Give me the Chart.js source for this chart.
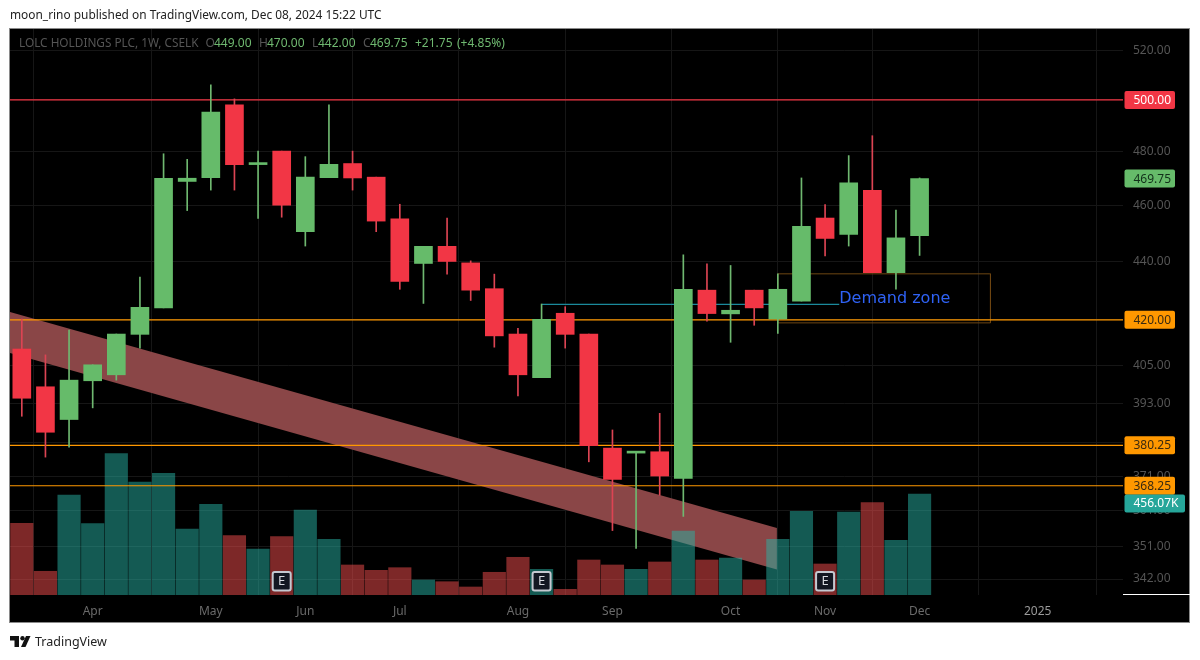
<!DOCTYPE html>
<html><head><meta charset="utf-8">
<style>html,body{margin:0;padding:0;background:#fff}canvas{display:block}</style>
<script src="https://cdn.jsdelivr.net/npm/chart.js@4"></script>
</head><body><canvas id="c" width="1200" height="660"></canvas>
<script>
const opens  =[410.4,398.3,388.1,400.2,402.1,415.2,424,468.7,470.1,498,475,480.1,450.4,470.1,475.4,470.3,455,439.2,445.2,439.4,430.5,415.3,401.2,422.2,415.3,379.4,377.9,378.3,370.4,430,422,430,420.3,426.3,455.3,449.4,465.4,436,449];
const highs  =[420.3,408.5,416.6,405.3,415.3,434.5,479.1,477,506,500.4,480.1,480.1,478,498,480.1,470.3,460.3,445.2,455.3,440.1,435.5,417.2,425.3,424.4,415.3,384.9,378.4,390,442.2,439.1,438.5,430,435.6,470,460.2,478.4,486,458.2,470];
const lows   =[389.1,376.7,379.7,391.7,400.4,410.7,424,458,465.5,465.5,455.2,455.6,445.3,470.1,465.5,450.4,430.3,425.5,435.5,426.5,411,395.4,401.2,410.7,375.3,355.4,350.4,365.5,359.4,419.6,412.6,418.2,415.5,426.3,441.8,445.3,436,430.3,442];
const closes =[394.7,384.2,400.4,405.3,415.3,424.2,469.9,469.9,495.2,475,475.4,460,470.3,475.1,470,454.2,433,445.2,439.9,430,414.7,402.1,420.2,415.2,380.1,370.1,378.4,371.1,430.3,422.1,423.2,424,430.3,452.3,448,468.2,436,448.2,469.75];
const volumes=[323.7,107,451.5,321.9,638,510.2,549.5,298,409.5,267.7,207.7,263.2,383.8,251.5,135.5,111.5,123.3,67.7,60,36.1,102.5,170.2,116,25.7,158,135.5,116,149,289,158,167,67.7,251.5,377.9,140,374.7,416.7,247,456.07];
const monthIdx=[3,8,12,16,21,25,30,34,38,43];
const monthLabels=['Apr','May','Jun','Jul','Aug','Sep','Oct','Nov','Dec','2025'];
const priceTicks=[520,500,480,460,440,420,405,393,381,371,361,351,342];
const levelValues=[500,420,380.25,368.25];
const levelColors=['#f23645','#ff9800','#ff9800','#ff9800'];
const pillText=['500.00','420.00','380.25','368.25'];
const earningsIdx=[11,22,34];
const bandUpper=[[-0.5,422.6],[31.96,356.1]];
const bandLower=[[-0.5,409.1],[31.96,344.6]];
const demandLine=[[22,425.2],[34.6,425.2]];
const demandBox=[[32,435.6],[41,435.6],[41,419],[32,419],[32,435.6]];
const lastVolume=456.07;
const lastClose=469.75;
const xMin=-0.5,xMax=46.61;
const yMin=337.7,yMax=528.9,volMax=2555;

const UP='#66bb6a',DOWN='#f23645';
const VUP='rgba(40,180,165,0.5)',VDOWN='rgba(250,80,80,0.5)';
const idx=opens.map((_,i)=>i);
const isUp=i=>closes[i]>=opens[i];
const toPts=a=>a.map(p=>({x:p[0],y:p[1]}));
const FONT='"Noto Sans"';

function pill(ctx,x,cy,w,h,bg,fg,t){
  ctx.fillStyle=bg;ctx.beginPath();ctx.roundRect(x,cy-h/2,w,h,2);ctx.fill();
  ctx.fillStyle=fg;ctx.font='12px '+FONT;ctx.textAlign='left';ctx.textBaseline='middle';
  ctx.fillText(t,x+9,cy+0.5);
}
const deco={
  id:'deco',
  beforeDraw(ch){
    const c=ch.ctx;c.save();
    c.fillStyle='#fff';c.fillRect(0,0,1200,660);
    c.fillStyle='#000';c.fillRect(10,29,1180,593);
    c.strokeStyle='#8a8a8a';c.lineWidth=1;c.strokeRect(9.5,28.5,1180,594);
    c.restore();
  },
  afterDraw(ch){
    const c=ch.ctx,x=ch.scales.x,y=ch.scales.y;c.save();
    c.textBaseline='middle';c.textAlign='left';
    // header
    c.fillStyle='#222';c.font='11.9px '+FONT;
    c.fillText('moon_rino published on TradingView.com, Dec 08, 2024 15:22 UTC',10,15.5);
    // legend
    const G='#6fb870',N='#555';
    c.font='11.8px '+FONT;
    c.fillStyle=N;c.fillText('LOLC HOLDINGS PLC, 1W, CSELK',19,44);
    c.font='12px '+FONT;
    [['O',205.5],['H',259],['L',312],['C',363]].forEach(a=>c.fillText(a[0],a[1],44));
    c.fillStyle=G;
    [['449.00',214],['470.00',267],['442.00',318],['469.75',370],['+21.75',415],['(+4.85%)',457]].forEach(a=>c.fillText(a[0],a[1],44));
    // demand label
    c.fillStyle='#2f62f5';c.font='16px "DejaVu Sans"';
    c.fillText('Demand zone',x.getPixelForValue(demandLine[1][0]),y.getPixelForValue(425.2)-5);
    // earnings markers
    earningsIdx.forEach(i=>{
      const px=x.getPixelForValue(i);
      c.fillStyle='#131722';c.strokeStyle='#c4c8d0';c.lineWidth=2;
      c.beginPath();c.roundRect(px-9,572,18,18.5,2);c.fill();c.stroke();
      c.fillStyle='#d8dae0';c.font='13px '+FONT;c.textAlign='center';
      c.fillText('E',px,581.5);c.textAlign='left';
    });
    // bottom-right white mark
    c.fillStyle='#fff';c.fillRect(1123,594,67,1);
    // pills
    levelValues.forEach((v,i)=>{
      const red=i===0;
      pill(c,1124.5,y.getPixelForValue(v),50.5,18,red?'#f23645':'#ff9800',red?'#fff':'#3a2a10',pillText[i]);
    });
    pill(c,1124.5,y.getPixelForValue(lastClose),50.5,18,'#66bb6a','#12301a',lastClose.toFixed(2));
    pill(c,1124.5,ch.scales.vol.getPixelForValue(lastVolume)+9.5,60.5,18,'#26a69a','#fff',lastVolume+'K');
    // footer logo + brand
    c.fillStyle='#111';
    c.beginPath();c.moveTo(10,636);c.lineTo(19,636);c.lineTo(19,647);c.lineTo(14.5,647);c.lineTo(14.5,640.5);c.lineTo(10,640.5);c.closePath();c.fill();
    c.beginPath();c.arc(22.5,638.3,2.2,0,Math.PI*2);c.fill();
    c.beginPath();c.moveTo(26,636);c.lineTo(30.5,636);c.lineTo(25.5,647);c.lineTo(21,647);c.closePath();c.fill();
    c.fillStyle='#222';c.font='12.5px '+FONT;c.fillText('TradingView',35,642.5);
    c.restore();
  }
};

const line=(data,color,order,extra)=>Object.assign({type:'line',data,borderColor:color,borderWidth:1,pointRadius:0,tension:0,order,fill:false,yAxisID:'y'},extra||{});
const datasets=[
  line(toPts(bandUpper),'rgba(0,0,0,0)',20,{borderWidth:0,fill:'+1',backgroundColor:'#8a4647'}),
  line(toPts(bandLower),'rgba(0,0,0,0)',21,{borderWidth:0}),
  {type:'bar',yAxisID:'vol',order:10,grouped:false,barThickness:22.5,
   data:idx.map(i=>({x:i,y:volumes[i]})),
   backgroundColor:idx.map(i=>isUp(i)?VUP:VDOWN)},
  ...levelValues.map((v,i)=>line([{x:xMin,y:v},{x:xMax,y:v}],levelColors[i],5,{borderWidth:1.2})),
  line(toPts(demandLine),'#1b8a9c',6,{borderWidth:1.3}),
  line(toPts(demandBox),'#6e4612',6),
  {type:'bar',yAxisID:'y',order:3,grouped:false,barThickness:1,
   data:idx.map(i=>({x:i,y:[lows[i],highs[i]]})),
   backgroundColor:idx.map(i=>isUp(i)?'#6fb870':'#dc4453')},
  {type:'bar',yAxisID:'y',order:2,grouped:false,barThickness:18,minBarLength:2,
   data:idx.map(i=>({x:i,y:[opens[i],closes[i]]})),
   backgroundColor:idx.map(i=>isUp(i)?UP:DOWN)}
];
new Chart(document.getElementById('c'),{
  type:'bar',
  data:{datasets},
  plugins:[deco],
  options:{
    responsive:false,animation:false,devicePixelRatio:1,
    layout:{padding:{left:10,top:29,right:10,bottom:38}},
    plugins:{legend:{display:false},tooltip:{enabled:false}},
    scales:{
      x:{type:'linear',min:xMin,max:xMax,offset:false,
        grid:{color:'#161616',drawTicks:false},border:{display:false},
        afterBuildTicks(s){s.ticks=monthIdx.map(v=>({value:v}));},
        afterFit(s){s.height=27;},
        ticks:{autoSkip:false,maxRotation:0,padding:9,font:{family:'"Noto Sans"',size:12},
          color:c=>c.tick&&c.tick.value===43?'#9a9a9a':'#6a6a6a',
          callback:v=>monthLabels[monthIdx.indexOf(v)]||''}},
      y:{type:'logarithmic',position:'right',min:yMin,max:yMax,
        grid:{color:'#161616',drawTicks:false},border:{display:false},
        afterBuildTicks(s){s.ticks=priceTicks.map(v=>({value:v}));},
        afterFit(s){s.width=67;},
        ticks:{autoSkip:false,padding:10,font:{family:'"Noto Sans"',size:12},color:'#555',
          callback:v=>Number(v).toFixed(2)}},
      vol:{type:'linear',display:false,min:0,max:volMax,position:'left'}
    }
  }
});
</script></body></html>
